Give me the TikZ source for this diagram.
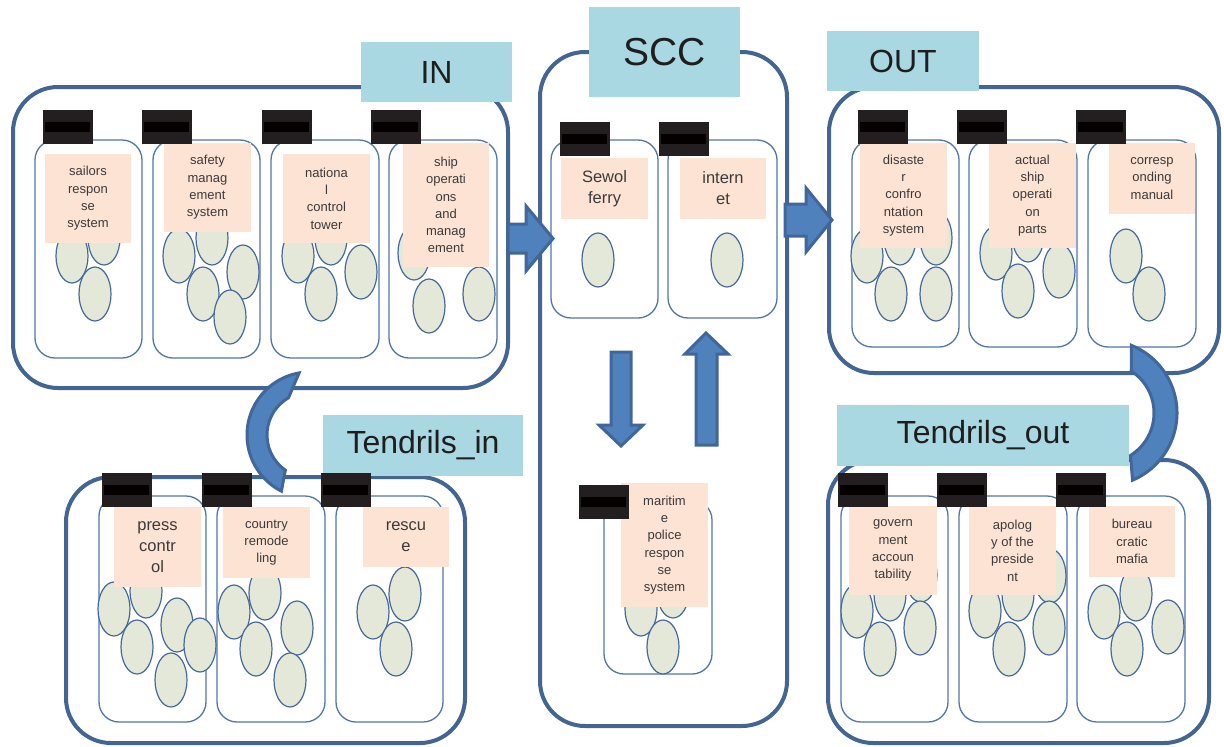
\documentclass[tikz,border=0pt]{standalone}
\usepackage{fontspec}
\setmainfont{Liberation Sans}
\usetikzlibrary{calc}

\definecolor{grpline}{HTML}{436592}
\definecolor{jarline}{HTML}{5276A6}
\definecolor{beadline}{HTML}{46699A}
\definecolor{beadfill}{HTML}{E3E8D8}
\definecolor{tagfill}{HTML}{FDE3D3}
\definecolor{titlefill}{HTML}{A9D8E2}
\definecolor{capfill}{HTML}{231F20}
\definecolor{capbar}{HTML}{050000}
\definecolor{arrowfill}{HTML}{4F81BD}
\definecolor{arrowline}{HTML}{41669A}
\definecolor{txt}{HTML}{3C3A3A}
\definecolor{titletxt}{HTML}{1E1E1E}

% a jar: rounded outline
\newcommand\jar[4]{\draw[jar] (#1,#2) rectangle (#3,#4);}
% black lid with its darker band
\newcommand\jarcap[2]{%
  \fill[capfill] (#1,#2) rectangle ++(50,34);
  \fill[capbar] ({#1+2},{#2+12}) rectangle ++(45,10);}
% one bead inside a jar
\newcommand\bead[2]{\draw[bead] (#1,#2) ellipse [x radius=16, y radius=27];}
% peach label: [style] name x1 y1 x2 y2 text
\newcommand\labeltag[7][]{%
  \fill[tagfill] (#3,#4) rectangle (#5,#6);
  \node[tagtext,#1] (#2) at ({(#3+#5)/2},{(#4+#6)/2}) {#7};}

\begin{document}
\begin{tikzpicture}[x=1pt,y=-1pt,
  group/.style={draw=grpline, line width=4pt, rounded corners=45pt, fill=white},
  jar/.style={draw=jarline, line width=1.3pt, rounded corners=20pt, fill=white},
  bead/.style={draw=beadline, line width=1.2pt, fill=beadfill},
  tagtext/.style={inner sep=0pt, align=center, text=txt,
    font=\fontsize{13}{17.3}\selectfont},
  bigtext/.style={font=\fontsize{16.5}{21}\selectfont},
  title/.style={fill=titlefill, inner sep=0pt, text=titletxt,
    font=\fontsize{32}{32}\selectfont},
  blockarrow/.style={fill=arrowfill, draw=arrowline, line width=3pt, line join=miter}]

\useasboundingbox (0,0) rectangle (1224,747);

% ---------------- IN ----------------
\draw[group] (13,87) rectangle (508,388);
\jar{35}{140}{142}{358}
\jar{153}{140}{260}{358}
\jar{271}{140}{379}{358}
\jar{389}{140}{497}{358}
\bead{72}{256}\bead{104}{238}\bead{95}{294}
\bead{179}{256}\bead{212}{238}\bead{243}{272}\bead{203}{294}\bead{230}{317}
\bead{298}{256}\bead{331}{238}\bead{361}{272}\bead{321}{294}
\bead{414}{253}\bead{429}{306}\bead{479}{294}
\labeltag{in1}{45}{154}{131}{243}{sailors\\respon\\se\\system}
\labeltag{in2}{164}{143}{251}{232}{safety\\manag\\ement\\system}
\labeltag{in3}{283}{154}{370}{243}{nationa\\l\\control\\tower}
\labeltag{in4}{403}{143}{489}{267}{ship\\operati\\ons\\and\\manag\\ement}
\jarcap{43}{110}\jarcap{142}{110}\jarcap{262}{110}\jarcap{371}{110}
\node[title, minimum width=151pt, minimum height=60pt] (intitle) at (436.5,72) {IN};

% ---------------- SCC ----------------
\draw[group] (540,52) rectangle (787,726);
\jar{551}{140}{658}{318}
\jar{668}{140}{777}{318}
\jar{604}{500}{712}{674}
\bead{598}{260}\bead{727}{260}
\bead{641}{609}\bead{673}{591}\bead{663}{647}
\labeltag[bigtext]{scc1}{561}{158}{648}{219}{Sewol\\ferry}
\labeltag[bigtext]{scc2}{680}{158}{766}{219}{intern\\et}
\labeltag{scc3}{621}{483}{708}{607}{maritim\\e\\police\\respon\\se\\system}
\jarcap{560}{122}\jarcap{659}{122}\jarcap{579}{485}
\node[title, minimum width=151pt, minimum height=90pt,
  font=\fontsize{39}{39}\selectfont] (scctitle) at (664.5,52) {SCC};
% flow between the SCC jars
\draw[blockarrow] (611,352) -- (631,352) -- (631,425) -- (643,425) -- (621,446)
  -- (599,425) -- (611,425) -- cycle;
\draw[blockarrow] (696,445) -- (717,445) -- (717,354) -- (728,354) -- (706,333)
  -- (685,354) -- (696,354) -- cycle;

% ---------------- OUT ----------------
\draw[group] (829,87) rectangle (1219,373);
\jar{852}{140}{959}{347}
\jar{969}{140}{1077}{347}
\jar{1088}{140}{1196}{347}
\bead{867}{256}\bead{900}{238}\bead{936}{238}\bead{891}{294}\bead{936}{294}
\bead{996}{253}\bead{1028}{235}\bead{1059}{271}\bead{1018}{291}
\bead{1126}{256}\bead{1149}{294}
\labeltag{out1}{860}{143}{947}{248}{disaste\\r\\confro\\ntation\\system}
\labeltag{out2}{989}{143}{1076}{248}{actual\\ship\\operati\\on\\parts}
\labeltag{out3}{1109}{143}{1195}{214}{corresp\\onding\\manual}
\jarcap{858}{110}\jarcap{957}{110}\jarcap{1076}{110}
\node[title, minimum width=152pt, minimum height=60pt] (outtitle) at (903,61) {OUT};

% ---------------- Tendrils_in ----------------
\draw[group] (66,477) rectangle (465,743);
\jar{99}{496}{206}{722}
\jar{217}{496}{325}{722}
\jar{336}{496}{443}{722}
\bead{114}{609}\bead{146}{591}\bead{177}{625}\bead{137}{647}\bead{200}{645}\bead{171}{680}
\bead{234}{612}\bead{265}{593}\bead{297}{628}\bead{256}{649}\bead{290}{680}
\bead{373}{612}\bead{405}{594}\bead{396}{649}
\labeltag[bigtext]{ti1}{114}{507}{201}{587}{press\\contr\\ol}
\labeltag{ti2}{223}{507}{310}{578}{country\\remode\\ling}
\labeltag[bigtext]{ti3}{363}{507}{449}{567}{rescu\\e}
\node[title, minimum width=200pt, minimum height=61pt] (titlein) at (423,445.5) {Tendrils\_in};
\jarcap{102}{473}\jarcap{202}{473}\jarcap{321}{473}

% ---------------- Tendrils_out ----------------
\draw[group] (828,460) rectangle (1209,743);
\jar{841}{496}{948}{722}
\jar{959}{496}{1067}{722}
\jar{1077}{496}{1185}{722}
\bead{857}{611}\bead{890}{594}\bead{921}{575}\bead{920}{628}\bead{880}{649}
\bead{985}{611}\bead{1018}{594}\bead{1050}{576}\bead{1049}{628}\bead{1009}{649}
\bead{1104}{612}\bead{1136}{594}\bead{1168}{627}\bead{1127}{649}
\labeltag{to1}{849}{506}{937}{595}{govern\\ment\\accoun\\tability}
\labeltag{to2}{969}{506}{1056}{595}{apolog\\y of the\\preside\\nt}
\labeltag{to3}{1089}{506}{1175}{577}{bureau\\cratic\\mafia}
\node[title, minimum width=292pt, minimum height=61pt] (titleout) at (983,435.5) {Tendrils\_out};
\jarcap{838}{473}\jarcap{937}{473}\jarcap{1056}{473}

% ---------------- flows between the groups ----------------
% IN -> SCC
\draw[blockarrow] (508,224) -- (526,224) -- (526,206) -- (553,238.5) -- (526,271)
  -- (526,253) -- (508,253) -- cycle;
% SCC -> OUT
\draw[blockarrow] (785,204) -- (806,204) -- (806,188) -- (832,220) -- (806,252)
  -- (806,236) -- (785,236) -- cycle;
% IN -> Tendrils_in
\coordinate (ca) at (310,435);
\draw[blockarrow] ($(ca)+(260:63)$) arc[start angle=260, end angle=117, radius=63]
  -- ($(ca)+(125:43)$) arc[start angle=125, end angle=240, radius=43] -- cycle;
% OUT -> Tendrils_out
\coordinate (cb) at (1104,413);
\draw[blockarrow] ($(cb)+(-68:73)$) arc[start angle=-68, end angle=67, radius=73]
  -- ($(cb)+(58:50)$) arc[start angle=58, end angle=-57, radius=50] -- cycle;

\end{tikzpicture}
\end{document}
